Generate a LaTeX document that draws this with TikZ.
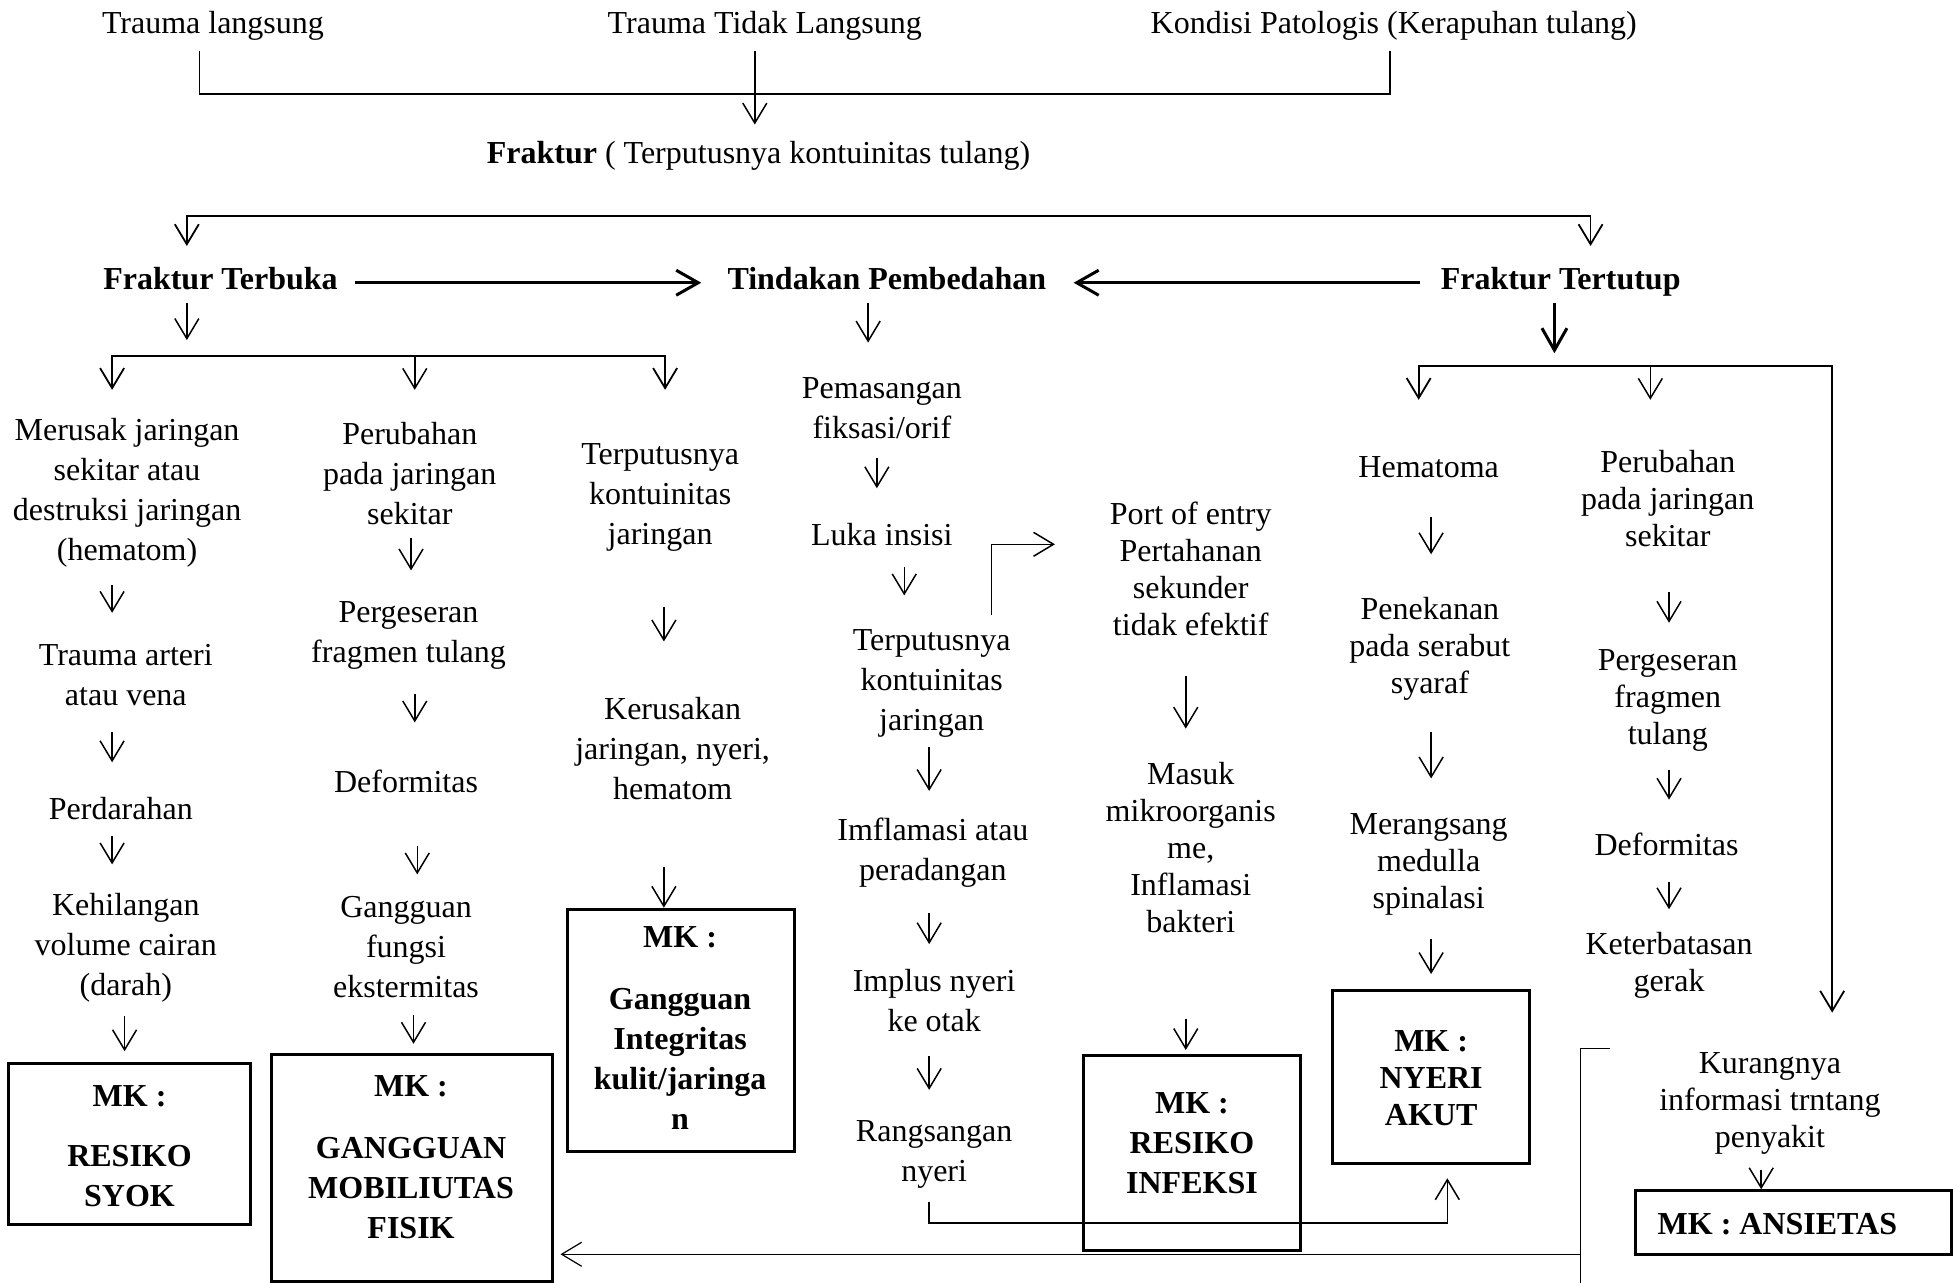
\documentclass[tikz,border=0pt]{standalone}
\usepackage{fontspec}
\setmainfont{Liberation Serif}
\usetikzlibrary{arrows.meta}
\begin{document}
\begin{tikzpicture}[x=1.2455pt,y=-1.2455pt,
  t/.style={align=center,inner sep=0pt,yshift=-3.7pt,font=\fontsize{32}{40}\selectfont},
  tr/.style={align=center,inner sep=0pt,yshift=-1.5pt,font=\fontsize{32}{37}\selectfont},
  tb/.style={align=center,inner sep=0pt,font=\fontsize{32}{40}\selectfont\bfseries},
  bt/.style={align=center,inner sep=0pt,font=\fontsize{32}{40}\selectfont\bfseries},
  btr/.style={align=center,inner sep=0pt,font=\fontsize{32}{37}\selectfont\bfseries},
  box/.style={draw,line width=3pt,inner sep=0pt},
  arr/.style={-{Straight Barb[length=20pt,width=24pt]},line width=1.5pt},
  arrb/.style={{Straight Barb[length=20pt,width=24pt]}-{Straight Barb[length=20pt,width=24pt]},line width=1.8pt},
  arrt/.style={-{Straight Barb[length=22pt,width=25pt]},line width=3pt},
  ln/.style={line width=1.5pt}]
\useasboundingbox (0,0) rectangle (1568,1030);

% top causes
\node[t] (tl) at (171,18) {Trauma langsung};
\node[t] (ttl) at (614,18) {Trauma Tidak Langsung};
\node[t] (kp) at (1119,18) {Kondisi Patologis (Kerapuhan tulang)};
\node[t] (fraktur) at (609,122) {\textbf{Fraktur} ( Terputusnya kontuinitas tulang)};

\draw[ln] (160,41) -- (160,75.5) -- (1116,75.5) -- (1116,41);
\draw[arr] (606,41) -- (606,100);

\draw[arrb] (150,197.5) -- (150,173.4) -- (1277,173.4) -- (1277,197.5);

% second row
\node[tb] (ft) at (177,224) {Fraktur Terbuka};
\node[tb] (tp) at (712,224) {Tindakan Pembedahan};
\node[tb,yshift=-3pt] (ftt) at (1253,224) {Fraktur Tertutup};
\draw[arrt] (285,227) -- (563,227);
\draw[arrt] (1140,227) -- (862,227);

% Fraktur terbuka branches
\draw[arr] (150,243.5) -- (150,273);
\draw[arrb] (90,313) -- (90,285.6) -- (534,285.6) -- (534,313);
\draw[arr] (333,285.6) -- (333,313);

% column 1
\node[t] (c1a) at (102,392.5) {Merusak jaringan\\sekitar atau\\destruksi jaringan\\(hematom)};
\node[t] (c1b) at (101,539) {Trauma arteri\\atau vena};
\node[t] (c1c) at (97,646) {Perdarahan};
\node[t] (c1d) at (101,758) {Kehilangan\\volume cairan\\(darah)};
\draw[arr] (90,470) -- (90,492);
\draw[arr] (90,588) -- (90,612);
\draw[arr] (90,671) -- (90,694);
\draw[arr] (100,816) -- (100,844);
\node[box,minimum width=241.6pt,minimum height=160.7pt] (b1) at (104,918.5) {};
\node[bt] (b1t) at (104,920) {MK :\\[20pt]RESIKO\\SYOK};

% column 2
\node[t] (c2a) at (329,377.5) {Perubahan\\pada jaringan\\sekitar};
\node[t] (c2b) at (328,507.5) {Pergeseran\\fragmen tulang};
\node[t] (c2c) at (326,624) {Deformitas};
\node[t] (c2d) at (326,757.5) {Gangguan\\fungsi\\ekstermitas};
\draw[arr] (330,432) -- (330,458);
\draw[arr] (333,557) -- (333,580);
\draw[arr] (335,679) -- (335,702);
\draw[arr] (332,815) -- (332,838);
\node[box,minimum width=281.1pt,minimum height=226.7pt] (b2) at (330.85,938) {};
\node[bt] (b2t) at (330,929) {MK :\\[22pt]GANGGUAN\\MOBILIUTAS\\FISIK};

% column 3
\node[t] (c3a) at (530,396.5) {Terputusnya\\kontuinitas\\jaringan};
\node[t] (c3b) at (540,598) {Kerusakan\\jaringan, nyeri,\\hematom};
\draw[arr] (533,487) -- (533,515);
\node[box,minimum width=226.9pt,minimum height=242.5pt] (b3) at (546.6,827.35) {};
\node[bt] (b3t) at (546,825.5) {MK :\\[22pt]Gangguan\\Integritas\\kulit/jaringa\\n};
\draw[arr] (533,696) -- (b3.north -| 533,0);

% middle column
\draw[arr] (697,243.5) -- (697,275);
\node[t,yshift=2pt] (m1) at (708,326) {Pemasangan\\fiksasi/orif};
\node[t,yshift=2pt] (m2) at (708,428) {Luka insisi};
\node[t] (m3) at (748,546) {Terputusnya\\kontuinitas\\jaringan};
\node[t] (m4) at (749,682) {Imflamasi atau\\peradangan};
\node[t,yshift=2pt] (m5) at (750,802) {Implus nyeri\\ke otak};
\node[t] (m6) at (750,924) {Rangsangan\\nyeri};
\draw[arr] (704,368) -- (704,392);
\draw[arr] (726,455) -- (726,478);
\draw[arr] (746,600) -- (746,635);
\draw[arr] (746,733) -- (746,758);
\draw[arr] (746,848) -- (746,875);
\draw[arr] (796,494) -- (796,437) -- (847,437);

% port of entry column
\node[tr] (p1) at (956,455.5) {Port of entry\\Pertahanan\\sekunder\\tidak efektif};
\node[tr] (p2) at (956,679) {Masuk\\mikroorganis\\me,\\Inflamasi\\bakteri};
\draw[arr] (952,543) -- (952,585);
\draw[arr] (952,818) -- (952,843);
\node[box,minimum width=217.3pt,minimum height=194.8pt] (b4) at (956.75,925.8) {};
\node[bt] (b4t) at (957,917.5) {MK :\\RESIKO\\INFEKSI};

% fraktur tertutup
\draw[arrt] (1248,243.5) -- (1248,283.6);
\draw[arrb] (1139,321) -- (1139,294) -- (1471,294) -- (1471,813);
\draw[arr] (1325,294) -- (1325,321);

\node[tr] (r1) at (1147,374) {Hematoma};
\node[tr] (r2) at (1148,520) {Penekanan\\pada serabut\\syaraf};
\node[tr] (r3) at (1147,693) {Merangsang\\medulla\\spinalasi};
\draw[arr] (1149,415) -- (1149,445);
\draw[arr] (1149,588) -- (1149,625);
\draw[arr] (1149,754) -- (1149,782);
\node[box,minimum width=196.8pt,minimum height=173.1pt] (b5) at (1149,864.5) {};
\node[btr] (b5t) at (1149,866) {MK :\\NYERI\\AKUT};

\node[tr] (s1) at (1339,399) {Perubahan\\pada jaringan\\sekitar};
\node[tr] (s2) at (1339,561) {Pergeseran\\fragmen\\tulang};
\node[tr] (s3) at (1338,677) {Deformitas};
\node[tr] (s4) at (1340,773.5) {Keterbatasan\\gerak};
\draw[arr] (1340,475) -- (1340,500);
\draw[arr] (1340,618) -- (1340,642);
\draw[arr] (1340,708) -- (1340,730);

\node[tr] (k1) at (1421,884.5) {Kurangnya\\informasi trntang\\penyakit};
\node[box,minimum width=316.4pt,minimum height=63.5pt] (b6) at (1440,981.5) {};
\node[bt] (b6t) at (1427,983) {MK : ANSIETAS};
\draw[arr] (1414,939) -- (b6.north -| 1414,0);

% pain line to NYERI AKUT
\draw[arr] (746,965) -- (746,982) -- (1162,982) -- (1162,946);

% bracket and line to GANGGUAN MOBILIUTAS
\draw[line width=1.2pt] (1293,842) -- (1268.6,842) -- (1268.6,1030);
\draw[arr,line width=1.2pt] (1268.6,1007) -- (450,1007);
\end{tikzpicture}
\end{document}
